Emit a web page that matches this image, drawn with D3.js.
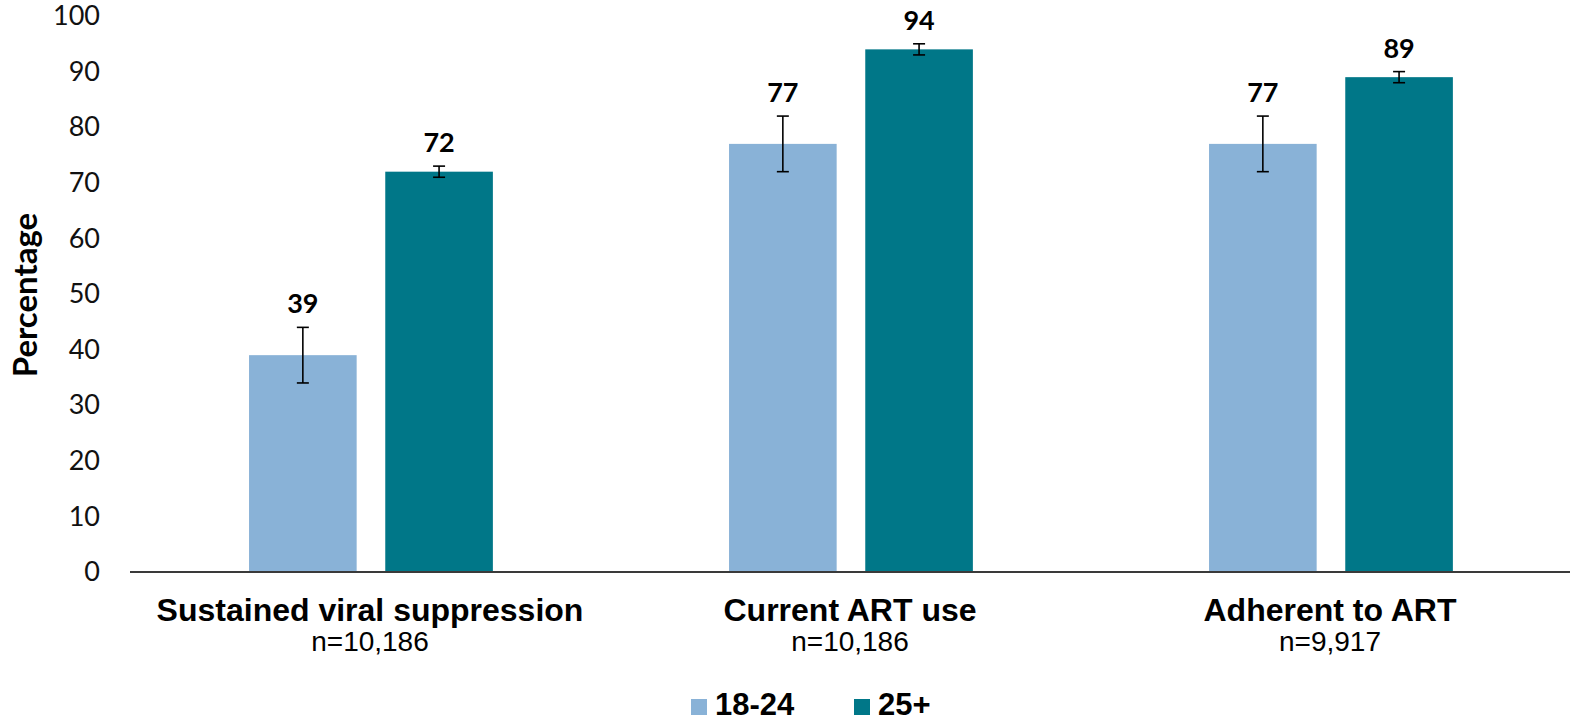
<!DOCTYPE html>
<html>
<head>
<meta charset="utf-8">
<script src="https://cdn.jsdelivr.net/npm/d3@7"></script>
<style>
  body { margin: 0; background: #fff; }
  .tick text { font-family: Lato, "Open Sans", sans-serif; }
</style>
</head>
<body>
<div id="viz-container"></div>
<script>
'use strict';

// Data.
const categories = ['Sustained viral suppression', 'Current ART use', 'Adherent to ART'];
const sampleSizes = ['n=10,186', 'n=10,186', 'n=9,917'];
const groups = ['18-24', '25+'];
const values18 = [39, 77, 77];
const values25 = [72, 94, 89];
const lower18 = [34, 72, 72];
const upper18 = [44, 82, 82];
const lower25 = [71, 93, 88];
const upper25 = [73, 95, 90];
const yTicks = [0, 10, 20, 30, 40, 50, 60, 70, 80, 90, 100];
const colors = ['#89b2d7', '#007788'];

const margin = { top: 16, right: 4, bottom: 149, left: 130 };
const width = 1574 - margin.left - margin.right;
const height = 721 - margin.top - margin.bottom;

const rows = [];
categories.forEach((c, i) => {
    rows.push({ cat: c, group: groups[0], value: values18[i], lo: lower18[i], hi: upper18[i] });
    rows.push({ cat: c, group: groups[1], value: values25[i], lo: lower25[i], hi: upper25[i] });
});

const svg = d3.select('#viz-container')
    .append('svg')
    .attr('width', width + margin.left + margin.right)
    .attr('height', height + margin.top + margin.bottom)
    .append('g')
    .attr('transform', 'translate(' + margin.left + ',' + margin.top + ')');

const x0 = d3.scaleBand().domain(categories).range([0, width]).padding(0);
const x1 = d3.scaleBand().domain(groups)
    .range([x0.bandwidth() * 0.248, x0.bandwidth() * 0.756])
    .paddingInner(0.21);
const y = d3.scaleLinear().domain([0, 100]).range([height, 0]);
const color = d3.scaleOrdinal().domain(groups).range(colors);

// y axis (labels only)
const yAxis = svg.append('g')
    .call(d3.axisLeft(y).tickValues(yTicks).tickSize(0).tickPadding(30));
yAxis.select('.domain').remove();
yAxis.selectAll('text').attr('font-size', 27).attr('fill', '#111');

svg.append('text')
    .attr('transform', 'translate(' + (-93) + ',' + (y(50) + 1) + ') rotate(-90)')
    .attr('text-anchor', 'middle')
    .attr('font-family', 'Lato, "Open Sans", sans-serif')
    .attr('font-weight', 'bold')
    .attr('font-size', 33)
    .text('Percentage');

// bars
svg.selectAll('rect.bar')
    .data(rows)
    .enter()
    .append('rect')
    .attr('class', 'bar')
    .attr('x', d => x0(d.cat) + x1(d.group))
    .attr('y', d => y(d.value))
    .attr('width', x1.bandwidth())
    .attr('height', d => height - y(d.value))
    .attr('fill', d => color(d.group));

// error bars
const err = svg.selectAll('g.err')
    .data(rows)
    .enter()
    .append('g')
    .attr('class', 'err')
    .attr('stroke', '#000')
    .attr('stroke-width', 1.6);
const cx = d => x0(d.cat) + x1(d.group) + x1.bandwidth() / 2;
err.append('line')
    .attr('x1', cx).attr('x2', cx)
    .attr('y1', d => y(d.lo)).attr('y2', d => y(d.hi));
err.append('line')
    .attr('x1', d => cx(d) - 6).attr('x2', d => cx(d) + 6)
    .attr('y1', d => y(d.lo)).attr('y2', d => y(d.lo));
err.append('line')
    .attr('x1', d => cx(d) - 6).attr('x2', d => cx(d) + 6)
    .attr('y1', d => y(d.hi)).attr('y2', d => y(d.hi));

// value labels
svg.selectAll('text.val')
    .data(rows)
    .enter()
    .append('text')
    .attr('class', 'val')
    .attr('x', cx)
    .attr('y', d => y(d.hi) - 14)
    .attr('text-anchor', 'middle')
    .attr('font-family', 'Lato, "Open Sans", sans-serif')
    .attr('font-weight', 'bold')
    .attr('font-size', 27)
    .text(d => d.value);

// x axis line
svg.append('line')
    .attr('x1', 0).attr('x2', width)
    .attr('y1', height).attr('y2', height)
    .attr('stroke', '#3a3a3a')
    .attr('stroke-width', 2);

// category labels
const sans = '"Liberation Sans", Arial, sans-serif';
svg.selectAll('text.cat')
    .data(categories)
    .enter()
    .append('text')
    .attr('class', 'cat')
    .attr('x', d => x0(d) + x0.bandwidth() / 2)
    .attr('y', height + 49)
    .attr('text-anchor', 'middle')
    .attr('font-family', sans)
    .attr('font-weight', 'bold')
    .attr('font-size', 32)
    .text(d => d);

svg.selectAll('text.n')
    .data(categories)
    .enter()
    .append('text')
    .attr('class', 'n')
    .attr('x', d => x0(d) + x0.bandwidth() / 2)
    .attr('y', height + 79)
    .attr('text-anchor', 'middle')
    .attr('font-family', sans)
    .attr('font-size', 28)
    .text((d, i) => sampleSizes[i]);

// legend
const legend = svg.append('g')
    .attr('transform', 'translate(' + (691 - margin.left) + ',' + (height + 127) + ')');
const legendX = [0, 163];
groups.forEach((g, i) => {
    legend.append('rect')
        .attr('x', legendX[i]).attr('y', 0)
        .attr('width', 16).attr('height', 16)
        .attr('fill', colors[i]);
    legend.append('text')
        .attr('x', legendX[i] + 24).attr('y', 16)
        .attr('font-family', sans)
        .attr('font-weight', 'bold')
        .attr('font-size', 31)
        .text(g);
});
</script>
</body>
</html>
